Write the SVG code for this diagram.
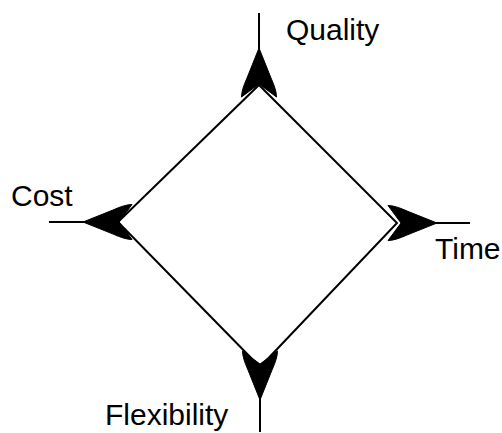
<svg xmlns="http://www.w3.org/2000/svg" width="502" height="433" viewBox="0 0 502 433">
  <style>
    .edge { stroke: #000; stroke-width: 2; fill: none; }
    .head { fill: #000; stroke: #000; stroke-width: 1; stroke-linejoin: round; }
    .lbl { font-family: "Liberation Sans", Arial, sans-serif; font-size: 30px; fill: #000; }
  </style>
  <defs>
    <path id="ah" d="M0,0 L-12,30 Q-17.5,42 -17.5,49 L0,36 L17.5,49 Q17.5,42 12,30 Z"/>
  </defs>
  <rect width="502" height="433" fill="#fff"/>
  <g id="diamond">
    <polygon class="edge" points="259,85 397,223 260,367 118,222"/>
  </g>
  <g id="connectors">
    <line class="edge" x1="259" y1="13" x2="259" y2="50"/>
    <use href="#ah" class="head" transform="translate(259,48)"/>
    <line class="edge" x1="49" y1="222" x2="85" y2="222"/>
    <use href="#ah" class="head" transform="translate(83,222) rotate(-90)"/>
    <line class="edge" x1="435" y1="223" x2="470" y2="223"/>
    <use href="#ah" class="head" transform="translate(437,223) rotate(90)"/>
    <line class="edge" x1="260" y1="398" x2="260" y2="432"/>
    <use href="#ah" class="head" transform="translate(260,400) rotate(180)"/>
  </g>
  <g id="quality"><text class="lbl" x="286" y="40">Quality</text></g>
  <g id="cost"><text class="lbl" x="11" y="206">Cost</text></g>
  <g id="time"><text class="lbl" x="435" y="259">Time</text></g>
  <g id="flexibility"><text class="lbl" x="105" y="425">Flexibility</text></g>
</svg>
